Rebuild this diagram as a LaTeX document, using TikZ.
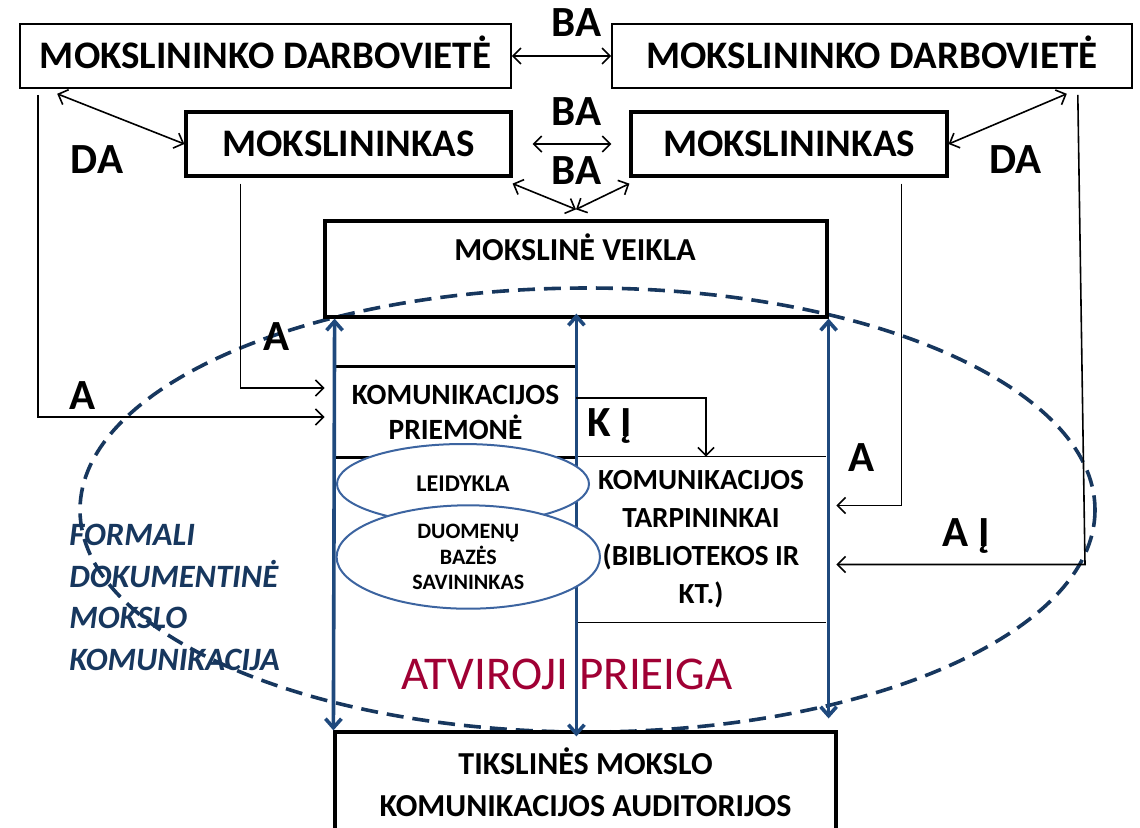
\documentclass[tikz,border=0pt]{standalone}
\usepackage{fontspec}
\setmainfont{Carlito}
\usetikzlibrary{arrows.meta,shapes.geometric}
\definecolor{azul}{RGB}{31,73,125}
\definecolor{azuloscuro}{RGB}{23,55,94}
\definecolor{azulclaro}{RGB}{60,100,160}
\definecolor{granate}{RGB}{160,0,52}

\begin{document}
\begin{tikzpicture}[x=0.5pt, y=-0.5pt,
  caja/.style={draw, line width=0.8pt, inner sep=0pt, minimum height=32pt,
    text height=12.3pt, text depth=0pt, font=\fontsize{19.5}{22}\selectfont\bfseries},
  cajagruesa/.style={caja, line width=1.6pt},
  etiq/.style={inner sep=0pt, text height=13.6pt, text depth=0pt,
    font=\fontsize{21.5}{24}\selectfont\bfseries},
  punta/.tip={Straight Barb[length=4pt, width=8pt]},
  flecha/.style={line width=0.8pt, -punta},
  dobleflecha/.style={line width=0.8pt, punta-punta},
  azulflecha/.style={azul, line width=1.8pt,
    {Straight Barb[length=4.5pt, width=8pt]}-{Straight Barb[length=4.5pt, width=8pt]}},
  ovalo/.style={ellipse, draw=azulclaro, line width=1pt, fill=white, inner sep=0pt,
    align=center, font=\fontsize{11}{12.9}\selectfont\bfseries}]
  \useasboundingbox (0,0) rectangle (1140,827);

  % Ovalo punteado
  \draw[azuloscuro, line width=1.8pt, dash pattern=on 8.5pt off 4.5pt]
    (587.5,510) ellipse [x radius=507.5, y radius=222];

  % Cajas superiores
  \node[caja, minimum width=245.5pt] (darbL) at (265.5,56) {MOKSLININKO DARBOVIETĖ};
  \node[caja, minimum width=260pt] (darbR) at (872,56) {MOKSLININKO DARBOVIETĖ};
  \node[cajagruesa, minimum width=162.5pt] (moksL) at (348.5,144) {MOKSLININKAS};
  \node[cajagruesa, minimum width=158pt] (moksR) at (789,144) {MOKSLININKAS};

  % Mokslinė veikla
  \node[draw, line width=1.6pt, inner sep=0pt, minimum width=251pt, minimum height=48pt]
    (veikla) at (576,269) {};
  \node[inner sep=0pt, text height=10.1pt, text depth=0pt,
    font=\fontsize{16}{19}\selectfont\bfseries] (veiklatxt) at (575,250) {MOKSLINĖ VEIKLA};

  % Priemonė y tarpininkai
  \node[inner sep=0pt, minimum width=120.5pt, minimum height=45pt, align=center,
    font=\fontsize{14.7}{17.5}\selectfont\bfseries] (priemone) at (455.5,412)
    {KOMUNIKACIJOS\\PRIEMONĖ};
  \draw[line width=1.6pt] (priemone.north west) -- (priemone.north east)
    (priemone.south west) -- (priemone.south east);
  \node[inner sep=0pt, minimum width=125pt, minimum height=82.5pt, align=center,
    font=\fontsize{14.6}{19}\selectfont\bfseries] (tarp) at (701,539.5)
    {KOMUNIKACIJOS\\TARPININKAI\\(BIBLIOTEKOS IR\\KT.)};
  \draw[line width=0.8pt] (tarp.north west) -- (tarp.north east)
    (tarp.south west) -- (tarp.south east);

  % Auditorijos
  \node[draw, line width=1.6pt, inner sep=0pt, minimum width=250.5pt, minimum height=50pt,
    align=center, font=\fontsize{16}{21}\selectfont\bfseries] (tiksl) at (585.5,782)
    {TIKSLINĖS MOKSLO\\KOMUNIKACIJOS AUDITORIJOS};

  % Flechas azules
  \draw[azulflecha] (priemone.west |- veikla.south) -- (tiksl.north west);
  \draw[azulflecha, shorten <=-2.5pt, shorten >=-3pt]
    (priemone.east |- veikla.south) -- (priemone.east |- tiksl.north);
  \draw[azulflecha, shorten >=6pt] (veikla.south east) -- (veikla.south east |- tiksl.north);

  % Ovalos
  \node[ovalo, minimum width=126pt, minimum height=40pt,
    font=\fontsize{12}{14}\selectfont\bfseries] (leid) at (463,484) {LEIDYKLA};
  \node[ovalo, minimum width=131.7pt, minimum height=51.7pt] (duom) at (468.3,557)
    {DUOMENŲ\\BAZĖS\\SAVININKAS};

  % Flechas BA
  \draw[dobleflecha] (darbL) -- (darbR);
  \draw[dobleflecha, shorten <=10pt, shorten >=9pt] (moksL.east) -- (moksR.west);
  \draw[dobleflecha] ([yshift=-3pt]moksL.south east) -- ([yshift=5pt]veikla.north);
  \draw[dobleflecha] ([yshift=-3pt]moksR.south west) -- ([yshift=5pt]veikla.north);

  % Flechas DA
  \draw[dobleflecha] ([xshift=19pt,yshift=-2.5pt]darbL.south west) -- (moksL.west);
  \draw[dobleflecha] (moksR.east) -- ([xshift=-33pt,yshift=-2.5pt]darbR.south east);

  % Flechas A
  \draw[flecha] ([xshift=9.5pt,yshift=-3pt]darbL.south west)
    |- ([xshift=-5pt,yshift=-2.5pt]priemone.west);
  \draw[flecha] ([xshift=28pt,yshift=-3pt]moksL.south west)
    |- ([xshift=-5pt,yshift=12pt]priemone.west);
  \draw[flecha] ([xshift=-23.5pt,yshift=-3pt]moksR.south east)
    |- ([xshift=5pt,yshift=17pt]tarp.east);
  \coordinate (codo) at (1085,564.5);
  \draw[flecha] ([xshift=-27.5pt,yshift=-3pt]darbR.south east) -- (codo)
    -- ([xshift=5pt,yshift=-12.5pt]tarp.east);
  \draw[flecha] ([yshift=7pt]priemone.east) -| ([xshift=2.5pt]tarp.north);

  % Etiquetas
  \node[etiq] (ba1) at (576.5,23.3) {BA};
  \node[etiq] (ba2) at (576.5,112) {BA};
  \node[etiq] (ba3) at (576.5,170.5) {BA};
  \node[etiq] (da1) at (97,160.3) {DA};
  \node[etiq] (da2) at (1015.5,160) {DA};
  \node[etiq] (a1) at (82.5,396) {A};
  \node[etiq] (a2) at (276.7,336.7) {A};
  \node[etiq] (a3) at (861.7,458) {A};
  \node[etiq] (ai) at (966,533) {A Į};
  \node[etiq] (ki) at (610,422.5) {K Į};

  % Textos
  \node[anchor=west, inner sep=0pt, align=left, text=azuloscuro,
    font=\fontsize{16.3}{20.8}\selectfont\bfseries\itshape] (formal) at (69,597.5)
    {FORMALI\\DOKUMENTINĖ\\MOKSLO\\KOMUNIKACIJA};
  \node[inner sep=0pt, text height=14.9pt, text depth=0pt, text=granate,
    font=\fontsize{23.5}{28}\selectfont] (atvir) at (567,675) {ATVIROJI PRIEIGA};
\end{tikzpicture}
\end{document}
